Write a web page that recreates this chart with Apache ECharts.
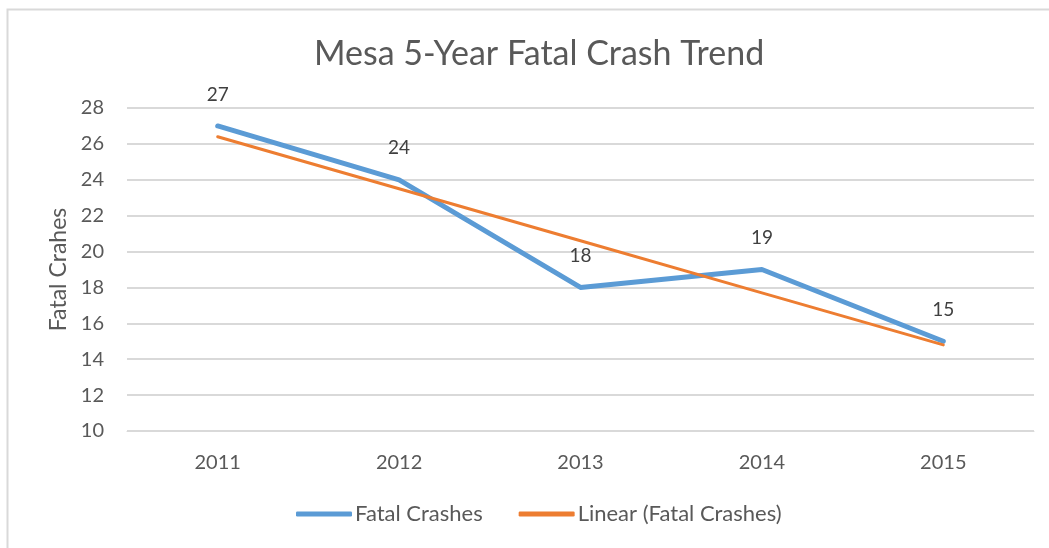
<!DOCTYPE html>
<html>
<head>
<meta charset="UTF-8">
<title>Mesa 5-Year Fatal Crash Trend</title>
<script src="https://cdn.jsdelivr.net/npm/echarts@6/dist/echarts.min.js"></script>
<style>
  html, body { margin: 0; padding: 0; background: #fff; }
  #chart { width: 1049px; height: 548px; }
</style>
</head>
<body>
<div id="chart"></div>
<script>
var years = ['2011', '2012', '2013', '2014', '2015'];
var crashes = [27, 24, 18, 19, 15];
// trendline values
var trend = [26.4, 23.5, 20.6, 17.7, 14.8];

var textColor = '#595959';
var fontName = 'Lato, "Open Sans", sans-serif';

var myChart = echarts.init(document.getElementById('chart'));

var option = {
  backgroundColor: '#fff',
  textStyle: { fontFamily: fontName, color: textColor },
  title: {
    text: 'Mesa 5-Year Fatal Crash Trend',
    left: 309,
    top: 32,
    textStyle: { fontSize: 34, fontWeight: 'normal', color: textColor, fontFamily: fontName }
  },
  graphic: [{
    type: 'rect',
    shape: { x: 7.5, y: 9.5, width: 1100, height: 600 },
    style: { fill: 'none', stroke: '#d9d9d9', lineWidth: 2 },
    silent: true,
    z: -1
  }],
  legend: {
    bottom: 18,
    left: 291,
    itemWidth: 56,
    itemHeight: 5,
    itemGap: 36,
    textStyle: { fontSize: 22, color: textColor, fontFamily: fontName, padding: [0, 0, 0, -2] },
    data: [
      { name: 'Fatal Crashes', icon: 'roundRect', itemStyle: { color: '#5b9bd5' } },
      { name: 'Linear (Fatal Crashes)', icon: 'roundRect', itemStyle: { color: '#ed7d31' } }
    ]
  },
  grid: { left: 127, right: 15, top: 108, bottom: 117 },
  xAxis: {
    type: 'category',
    data: years,
    boundaryGap: true,
    axisLine: { show: true, lineStyle: { color: '#d9d9d9', width: 1 } },
    axisTick: { show: false },
    axisLabel: { color: textColor, fontSize: 20, margin: 22 }
  },
  yAxis: {
    type: 'value',
    min: 10,
    max: 28,
    interval: 2,
    name: 'Fatal Crahes',
    nameLocation: 'middle',
    nameGap: 54,
    nameTextStyle: { fontSize: 23, color: textColor },
    axisLine: { show: false },
    axisTick: { show: false },
    axisLabel: { color: textColor, fontSize: 20, margin: 23 },
    splitLine: { lineStyle: { color: '#d9d9d9', width: 2 } }
  },
  series: [
    {
      name: 'Fatal Crashes',
      type: 'line',
      data: crashes,
      symbol: 'circle',
      symbolSize: 0,
      showSymbol: true,
      lineStyle: { color: '#5b9bd5', width: 5, cap: 'round', join: 'round' },
      itemStyle: { color: '#5b9bd5' },
      label: { show: true, position: 'top', distance: 22, fontSize: 19, color: '#404040' },
      z: 3
    },
    {
      name: 'Linear (Fatal Crashes)',
      type: 'line',
      data: trend,
      symbol: 'none',
      lineStyle: { color: '#ed7d31', width: 3, cap: 'round' },
      itemStyle: { color: '#ed7d31' },
      z: 4
    }
  ]
};

myChart.setOption(option);
</script>
</body>
</html>
